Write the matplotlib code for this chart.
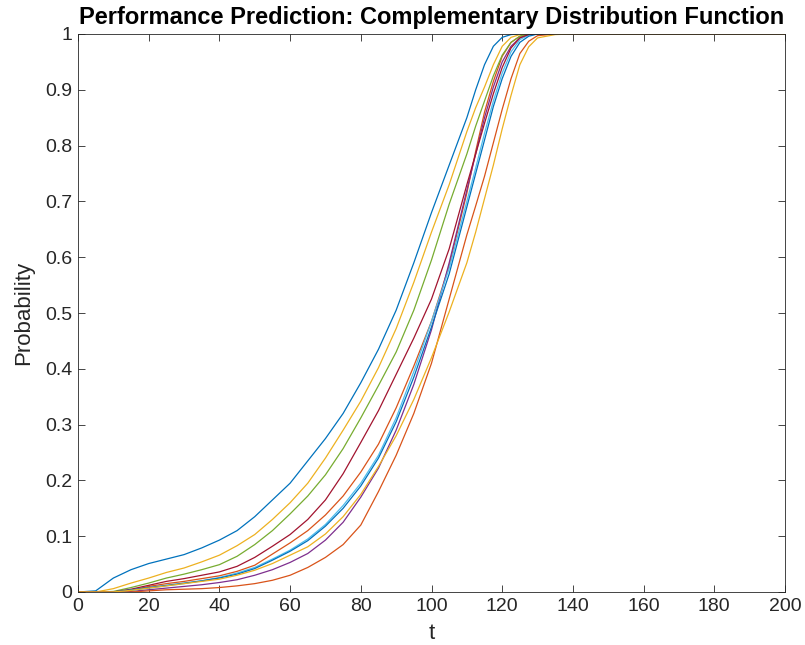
"""
Performance prediction: complementary distribution function of ten runs,
drawn in MATLAB style.
"""
import matplotlib
matplotlib.use('Agg')
import matplotlib.pyplot as plt
from matplotlib.ticker import FormatStrFormatter

# time grid shared by all curves
t = [0, 5, 10, 15, 20, 25, 30, 35, 40, 45, 50, 55, 60, 65, 70, 75, 80, 85,
     90, 95, 100, 105, 110, 112.5, 115, 117.5, 120, 122.5, 125, 127.5, 130,
     135, 140, 200]

# probability per curve
p_blue1 = [0, 0.002, 0.025, 0.040, 0.051, 0.059, 0.067, 0.079, 0.093, 0.110,
           0.135, 0.165, 0.195, 0.235, 0.275, 0.320, 0.375, 0.435, 0.505,
           0.590, 0.680, 0.765, 0.850, 0.900, 0.945, 0.978, 0.994, 0.999,
           1, 1, 1, 1, 1, 1]
p_orange1 = [0, 0, 0, 0.003, 0.010, 0.015, 0.019, 0.024, 0.029, 0.037, 0.048,
             0.068, 0.088, 0.110, 0.138, 0.172, 0.215, 0.265, 0.330, 0.405,
             0.485, 0.585, 0.715, 0.790, 0.860, 0.915, 0.960, 0.985, 0.996,
             1, 1, 1, 1, 1]
p_yellow1 = [0, 0, 0.006, 0.016, 0.025, 0.035, 0.043, 0.054, 0.066, 0.083,
             0.103, 0.130, 0.160, 0.195, 0.240, 0.290, 0.342, 0.402, 0.472,
             0.555, 0.645, 0.730, 0.825, 0.868, 0.905, 0.945, 0.978, 0.994,
             0.999, 1, 1, 1, 1, 1]
p_purple = [0, 0, 0, 0.001, 0.004, 0.007, 0.010, 0.013, 0.017, 0.022, 0.030,
            0.040, 0.053, 0.069, 0.093, 0.125, 0.170, 0.222, 0.290, 0.372,
            0.470, 0.590, 0.720, 0.785, 0.850, 0.905, 0.950, 0.978, 0.993,
            0.999, 1, 1, 1, 1]
p_green = [0, 0, 0.001, 0.008, 0.016, 0.025, 0.032, 0.040, 0.049, 0.064,
           0.085, 0.110, 0.140, 0.172, 0.210, 0.257, 0.312, 0.370, 0.430,
           0.505, 0.595, 0.695, 0.785, 0.835, 0.880, 0.925, 0.962, 0.985,
           0.996, 1, 1, 1, 1, 1]
p_lightblue = [0, 0, 0, 0.003, 0.007, 0.011, 0.015, 0.020, 0.026, 0.034,
               0.044, 0.059, 0.075, 0.095, 0.121, 0.155, 0.195, 0.245, 0.312,
               0.395, 0.485, 0.580, 0.700, 0.760, 0.822, 0.880, 0.930, 0.968,
               0.990, 0.998, 1, 1, 1, 1]
p_darkred = [0, 0, 0, 0.005, 0.012, 0.019, 0.024, 0.030, 0.036, 0.046, 0.062,
             0.082, 0.103, 0.130, 0.165, 0.212, 0.268, 0.325, 0.390, 0.455,
             0.525, 0.615, 0.730, 0.785, 0.840, 0.893, 0.940, 0.975, 0.993,
             0.999, 1, 1, 1, 1]
p_blue2 = [0, 0, 0, 0.004, 0.008, 0.012, 0.016, 0.020, 0.025, 0.032, 0.042,
           0.057, 0.073, 0.092, 0.118, 0.150, 0.190, 0.240, 0.305, 0.385,
           0.475, 0.570, 0.690, 0.750, 0.810, 0.870, 0.920, 0.960, 0.985,
           0.996, 1, 1, 1, 1]
p_orange2 = [0, 0, 0, 0, 0.002, 0.004, 0.005, 0.006, 0.008, 0.011, 0.015,
             0.021, 0.030, 0.044, 0.062, 0.085, 0.120, 0.180, 0.245, 0.320,
             0.410, 0.525, 0.640, 0.692, 0.745, 0.805, 0.865, 0.920, 0.965,
             0.987, 0.997, 1, 1, 1]
p_yellow2 = [0, 0, 0, 0.003, 0.007, 0.011, 0.015, 0.019, 0.023, 0.030, 0.039,
             0.051, 0.066, 0.081, 0.104, 0.135, 0.175, 0.225, 0.280, 0.345,
             0.420, 0.502, 0.590, 0.645, 0.705, 0.765, 0.830, 0.890, 0.945,
             0.977, 0.993, 0.999, 1, 1]

curves = [p_blue1, p_orange1, p_yellow1, p_purple, p_green, p_lightblue,
          p_darkred, p_blue2, p_orange2, p_yellow2]

# MATLAB default colour order
matlab_colors = ['#0072BD', '#D95319', '#EDB120', '#7E2F8E', '#77AC30',
                 '#4DBEEE', '#A2142F']

x_ticks = list(range(0, 201, 20))
y_ticks = [0, 0.1, 0.2, 0.3, 0.4, 0.5, 0.6, 0.7, 0.8, 0.9, 1]

axis_color = '#262626'
plt.rcParams['font.family'] = ['Liberation Sans', 'DejaVu Sans']

fig = plt.figure(figsize=(8.05, 6.45), dpi=100)
ax = fig.add_axes([78 / 805, 53 / 645, 707 / 805, 558 / 645])

for i, p in enumerate(curves):
    ax.plot(t, p, color=matlab_colors[i % len(matlab_colors)], linewidth=0.9)

ax.set_xlim(0, 200)
ax.set_ylim(0, 1)
ax.set_xticks(x_ticks)
ax.set_yticks(y_ticks)
ax.yaxis.set_major_formatter(FormatStrFormatter('%g'))

ax.tick_params(direction='in', length=5, width=0.6, top=True, right=True,
               labelsize=14, colors=axis_color, pad=4)
for spine in ax.spines.values():
    spine.set_color(axis_color)
    spine.set_linewidth(0.6)

ax.set_xlabel('t', fontsize=16, color=axis_color, labelpad=6)
ax.set_ylabel('Probability', fontsize=16, color=axis_color, labelpad=8)
ax.set_title('Performance Prediction: Complementary Distribution Function',
             fontsize=17, fontweight='bold', color='black', pad=7)

fig.savefig('out.png', dpi=100)
